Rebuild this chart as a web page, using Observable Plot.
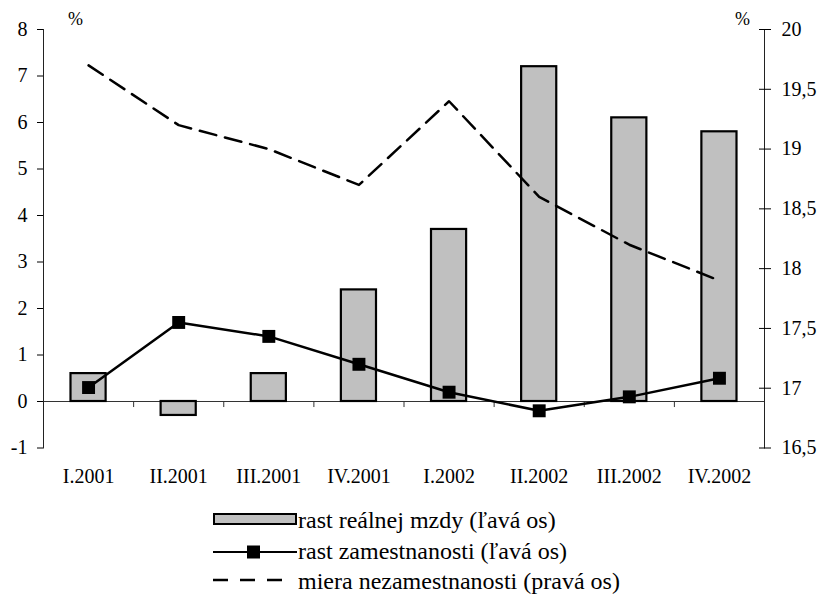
<!DOCTYPE html>
<html>
<head>
<meta charset="utf-8">
<script src="https://cdn.jsdelivr.net/npm/d3@7"></script>
<script src="https://cdn.jsdelivr.net/npm/@observablehq/plot@0.6"></script>
<style>
  html, body { margin: 0; padding: 0; background: white; overflow: hidden; width: 820px; height: 601px; }
  #wrap { position: relative; width: 820px; height: 601px; overflow: hidden; background: white; font-family: "Liberation Serif", "Times New Roman", serif; }
  #chart { width: 820px; height: 500px; }
  #chart svg { display: block; max-width: none !important; width: 820px; height: 500px; }
  #legend { position: relative; width: 820px; height: 101px; }
  .sw { position: absolute; display: block; }
  .lt { position: absolute; font-size: 24px; line-height: 24px; white-space: nowrap; color: black; }
</style>
</head>
<body>
<div id="wrap"><div id="chart"></div><div id="legend"></div></div>
<script>
const categories = ["I.2001","II.2001","III.2001","IV.2001","I.2002","II.2002","III.2002","IV.2002"];
const wageGrowth = [0.6, -0.3, 0.6, 2.4, 3.7, 7.2, 6.1, 5.8];
const employmentGrowth = [0.3, 1.7, 1.4, 0.8, 0.2, -0.2, 0.1, 0.5];
const unemploymentRate = [19.7, 19.2, 19.0, 18.7, 19.4, 18.6, 18.2, 17.9];
const leftTicks = [-1, 0, 1, 2, 3, 4, 5, 6, 7, 8];
const rightTicks = [16.5, 17, 17.5, 18, 18.5, 19, 19.5, 20];
const rightTickLabels = ["16,5", "17", "17,5", "18", "18,5", "19", "19,5", "20"];
const legendLabels = ["rast reálnej mzdy (ľavá os)", "rast zamestnanosti (ľavá os)", "miera nezamestnanosti (pravá os)"];

// right axis [16.5, 20] mapped onto left axis [-1, 8]
const leftDomain = [-1, 8], rightDomain = [16.5, 20];
const toLeft = v => leftDomain[0] + (v - rightDomain[0]) * (leftDomain[1] - leftDomain[0]) / (rightDomain[1] - rightDomain[0]);

const data = categories.map((c, i) => ({
  i, category: c, wage: wageGrowth[i], emp: employmentGrowth[i], unemp: unemploymentRate[i]
}));
const centers = categories.map((c, i) => i + 0.5);
const boundaries = d3.range(1, categories.length);
const rightPos = rightTicks.map(toLeft);

const chart = Plot.plot({
  width: 820,
  height: 500,
  marginLeft: 43,
  marginRight: 56,
  marginTop: 29,
  marginBottom: 52.5,
  style: { fontFamily: '"Liberation Serif", "Times New Roman", serif', fontSize: "20px", background: "white", color: "black", overflow: "visible" },
  x: { type: "linear", domain: [0, categories.length], axis: null, label: null },
  y: { domain: leftDomain, axis: null, label: null },
  marks: [
    Plot.ruleY([0], { stroke: "#333", strokeWidth: 1 }),
    Plot.ruleX(boundaries, { y1: 0, y2: -0.13, stroke: "#333", strokeWidth: 1 }),
    Plot.rectY(data, { x: "i", interval: 1, y: "wage", fill: "#c0c0c0", stroke: "black", strokeWidth: 2.2, insetLeft: 27.5, insetRight: 27.5 }),
    Plot.line(data, { x: d => d.i + 0.5, y: d => toLeft(d.unemp), stroke: "black", strokeWidth: 2.5, strokeDasharray: "17,9" }),
    Plot.line(data, { x: d => d.i + 0.5, y: "emp", stroke: "black", strokeWidth: 2.5 }),
    Plot.dot(data, { x: d => d.i + 0.5, y: "emp", symbol: "square", fill: "black", stroke: "none", r: 7.3 }),
    Plot.frame({ anchor: "left", stroke: "#222" }),
    Plot.frame({ anchor: "right", stroke: "#222" }),
    Plot.axisY(leftTicks, { anchor: "left", tickSize: 6, tickPadding: 10, tickFormat: d => String(d), label: null }),
    Plot.axisY(rightPos, { anchor: "right", tickSize: 12, dx: -6, tickFormat: () => "", label: null }),
    Plot.text(rightTicks, { y: toLeft, text: (d, i) => rightTickLabels[i], frameAnchor: "right", dx: 17, textAnchor: "start", lineAnchor: "middle" }),
    Plot.axisX(centers, { anchor: "bottom", tickSize: 0, tickPadding: 21, tickFormat: v => categories[Math.round(v - 0.5)], label: null }),
    Plot.text(["%"], { frameAnchor: "top-left", dx: 32, dy: -10, fontSize: 18, textAnchor: "middle", lineAnchor: "middle" }),
    Plot.text(["%"], { frameAnchor: "top-right", dx: -22, dy: -10, fontSize: 18, textAnchor: "middle", lineAnchor: "middle" })
  ]
});
document.getElementById("chart").appendChild(chart);

// legend (below the SVG)
const legend = document.getElementById("legend");
const ns = "http://www.w3.org/2000/svg";
function swatch(left, top, w, h, build) {
  const s = document.createElementNS(ns, "svg");
  s.setAttribute("width", w); s.setAttribute("height", h);
  s.setAttribute("class", "sw");
  s.style.left = left + "px"; s.style.top = top + "px";
  build(s);
  legend.appendChild(s);
}
function el(parent, name, attrs) {
  const e = document.createElementNS(ns, name);
  for (const k in attrs) e.setAttribute(k, attrs[k]);
  parent.appendChild(e);
  return e;
}
swatch(213, 13, 84, 12, s => el(s, "rect", { x: 1, y: 1, width: 82, height: 10, fill: "#c0c0c0", stroke: "black", "stroke-width": 2 }));
swatch(213, 44, 84, 16, s => {
  el(s, "line", { x1: 0, x2: 84, y1: 8, y2: 8, stroke: "black", "stroke-width": 2 });
  el(s, "rect", { x: 34, y: 1.5, width: 13, height: 13, fill: "black" });
});
swatch(213, 76, 72, 8, s => el(s, "line", { x1: 0, x2: 70, y1: 4, y2: 4, stroke: "black", "stroke-width": 2.5, "stroke-dasharray": "15,12" }));
const tops = [8, 39, 69];
legendLabels.forEach((t, k) => {
  const d = document.createElement("div");
  d.className = "lt";
  d.style.left = "298px";
  d.style.top = tops[k] + "px";
  d.textContent = t;
  legend.appendChild(d);
});
</script>
</body>
</html>
